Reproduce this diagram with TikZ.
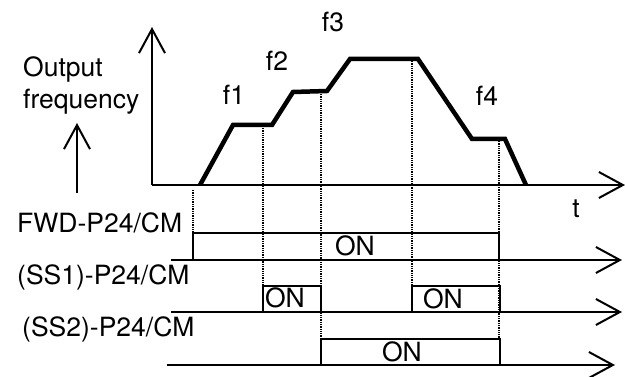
\documentclass[tikz,border=0pt]{standalone}
\usepackage{fontspec}
\setmainfont{TeX Gyre Heros}
\usetikzlibrary{arrows.meta}

\begin{document}
\begin{tikzpicture}[
			x=1pt, y=-1pt,
			every node/.style={font=\fontsize{26.5}{32}\selectfont, inner sep=0pt},
			axis/.style={line width=2pt, -{Straight Barb[length=24pt,width=26pt]}},
			freq/.style={line width=4.5pt, line join=miter},
			sig/.style={line width=1.8pt},
			mark line/.style={line width=1.3pt, densely dotted}
			]
			\useasboundingbox (0,0) rectangle (625,377);
			
			% axes
			\coordinate (origin) at (152,185);
			\node (tlabel) at (576,209) {t};
			\draw[axis] (origin) -- (152,27);
			\draw[axis] (origin) -- (625,185);
			
			\node[align=left, anchor=north west] (outlabel) at (23,57) {Output\\frequency};
			\draw[axis] (77,193) -- (77,123);
			
			% output frequency
			\coordinate (start) at (200,185);
			\coordinate (stop) at (526,185);
			\draw[freq] (start) -- (233,125) -- (272,125) -- (293,92) -- (327,91)
			-- (350,59) -- (418,59) -- (472,139) -- (505,139) -- (stop);
			
			\node (f1) at (234,95) {f1};
			\node (f2) at (277,61) {f2};
			\node (f3) at (333,22) {f3};
			\node (f4) at (487,96) {f4};
			
			% switching instants
			\draw[mark line] (193,190) -- (193,233);
			\draw[mark line] (263,128) -- (263,286);
			\draw[mark line] (321,94) -- (321,339);
			\draw[mark line] (412,61) -- (412,286);
			\draw[mark line] (499,141) -- (499,339);
			
			% signals
			\node[anchor=base west] (fwd) at (17,233) {FWD-P24/CM};
			\node[anchor=base west] (ss1) at (17,285) {(SS1)-P24/CM};
			\node[anchor=base west] (ss2) at (22,337) {(SS2)-P24/CM};
			
			\draw[axis] (171,260) -- (622,260);
			\draw[axis] (171,312) -- (622,312);
			\draw[axis] (167,365) -- (615,365);
			
			\draw[sig] (193,260) rectangle (499,233);
			\draw[sig] (263,312) rectangle (321,286);
			\draw[sig] (412,312) rectangle (500,286);
			\draw[sig] (321,365) rectangle (500,339);
			
			\node (onfwd) at (355,246) {ON};
			\node (onssa) at (285,298) {ON};
			\node (onssb) at (443,299) {ON};
			\node (onssc) at (402,352) {ON};
		\end{tikzpicture}
\end{document}
